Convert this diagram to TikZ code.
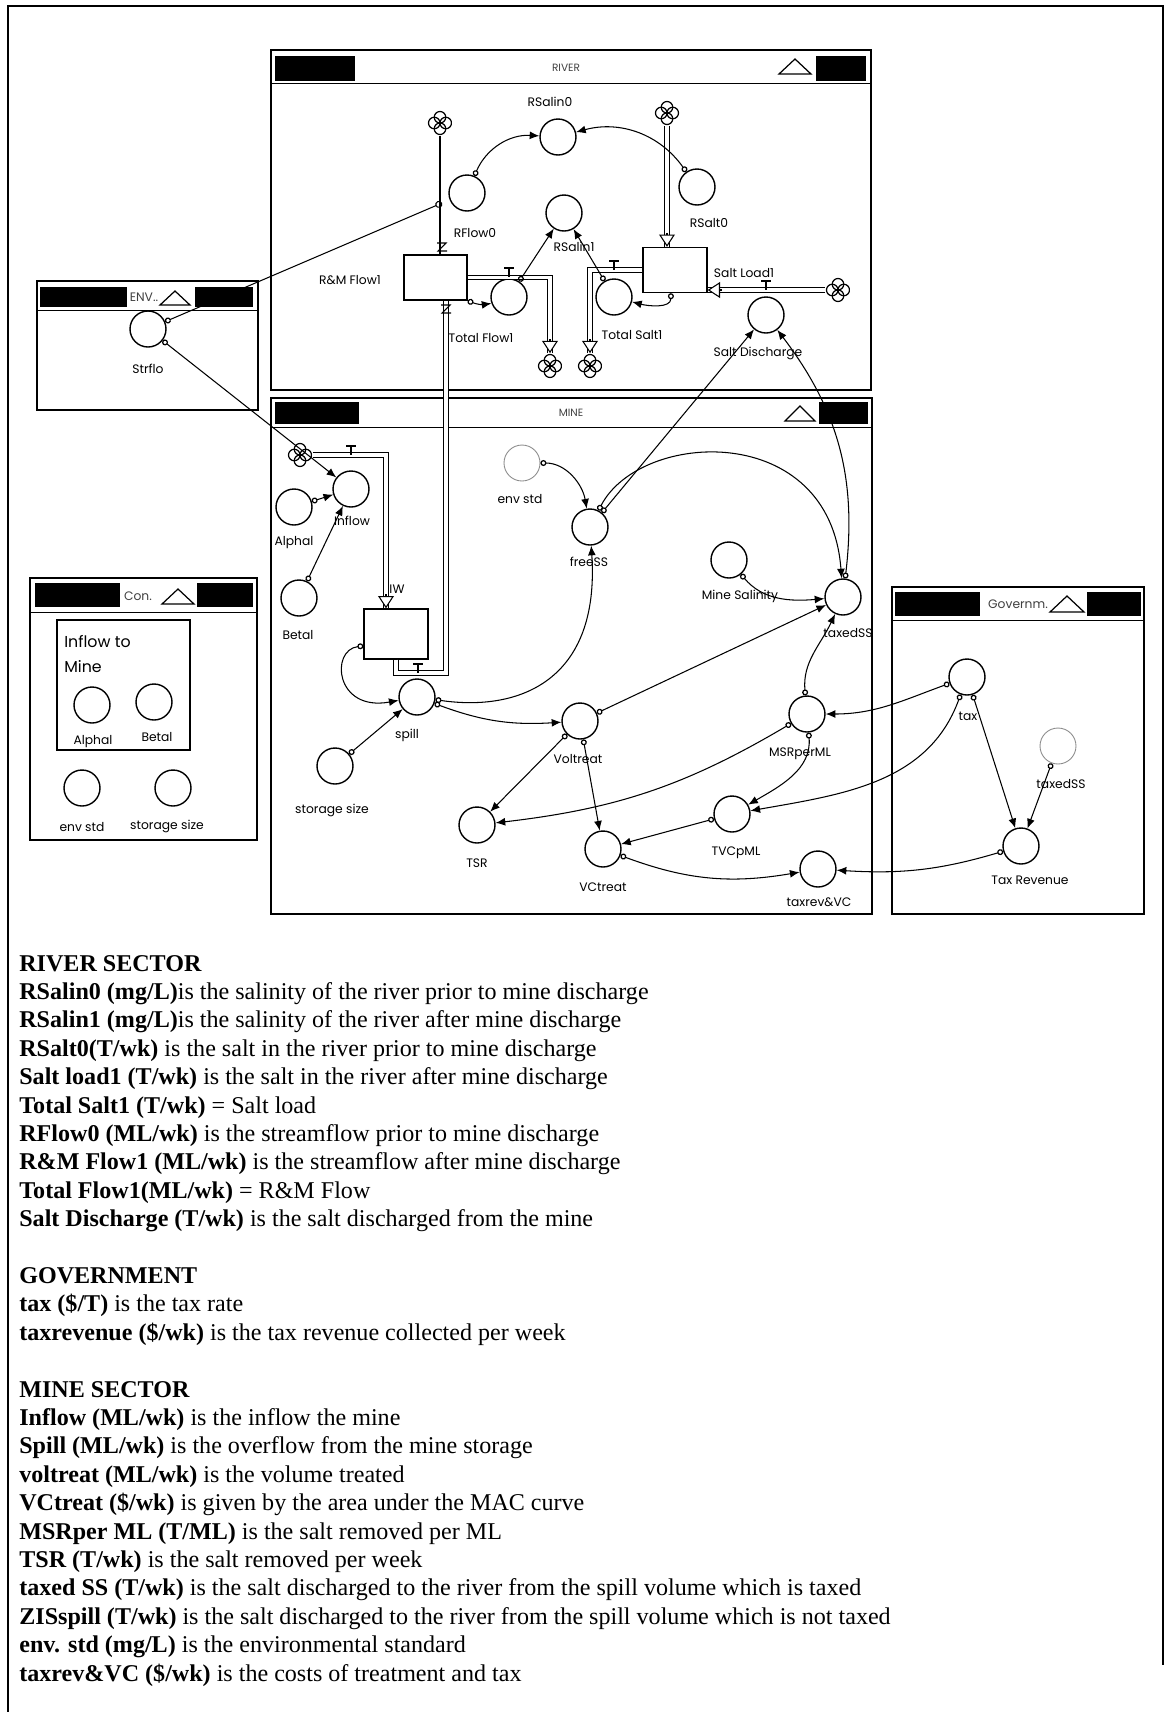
\documentclass[tikz,border=0pt]{standalone}
\usepackage{fontspec}
\setmainfont{Liberation Serif}
\newfontfamily\labelfont{Poppins}
\usetikzlibrary{arrows.meta}

\tikzset{
  aux/.style={circle, draw, line width=0.8pt, minimum size=0.72cm, inner sep=0pt},
  ghost/.style={aux, draw=black!45, line width=0.5pt},
  stock/.style={draw, line width=0.8pt, inner sep=0pt},
  cloudsym/.style={circle, minimum size=0.5cm, inner sep=0pt, fill=white,
    path picture={\foreach \a in {0,90,180,270}
      \draw[line width=0.7pt] ([shift={(\a:0.115cm)}]path picture bounding box.center) circle (0.115cm);}},
  lbl/.style={font=\labelfont\fontsize{7}{8}\selectfont, inner sep=0pt},
  wintitle/.style={font=\labelfont\fontsize{6}{7}\selectfont, text=black!75, inner sep=0pt},
  conn/.style={line width=0.6pt, {Circle[open,length=3.4pt,line width=0.7pt]}-{Latex[length=5.5pt,width=4.5pt]}},
  pipe/.style={line width=0.7pt, double=white, double distance=1.8pt},
  pipetip/.style={line width=0.6pt, -{Triangle[length=7pt,width=9pt,fill=white]}},
  winframe/.style={line width=1pt},
  txt/.style={font=\fontsize{13.7}{16}\selectfont, anchor=base west, inner sep=0pt}
}

\begin{document}
\begin{tikzpicture}[x=0.02cm,y=-0.02cm]
  \useasboundingbox (0,0) rectangle (1166,1712);
  % page frame
  \draw[line width=1.1pt] (8,1712) -- (8,6) -- (1163,6) -- (1163,1665);

  % RIVER window
  \draw[winframe] (271,50) rectangle (871,390);
  \draw (271,83) -- (871,83);
  \fill (275,56) rectangle (355,81);
  \fill (816,56) rectangle (866,81);
  \draw[line width=0.7pt] (779,74) -- (795,59) -- (811,74) -- cycle;
  \node[wintitle] (rivertitle) at (566,68) {RIVER};

  % MINE window
  \draw[winframe] (271,398) rectangle (872,914);
  \draw (271,427) -- (872,427);
  \fill (275,402) rectangle (359,424);
  \fill (819,402) rectangle (868,424);
  \draw[line width=0.7pt] (785,421) -- (800,406) -- (815,421) -- cycle;
  \node[wintitle] (minetitle) at (571,413) {MINE};

  % ENV window
  \draw[winframe] (37,281) rectangle (258,410);
  \draw (37,310) -- (258,310);
  \fill (40,287) rectangle (127,307);
  \fill (195,287) rectangle (253,307);
  \draw[line width=0.7pt] (160,305) -- (175,291) -- (190,305) -- cycle;
  \node[wintitle, font=\labelfont\fontsize{7}{8}\selectfont] (envtitle) at (144,297) {ENV..};

  % Con window
  \draw[winframe] (30,578) rectangle (257,840);
  \draw (30,612) -- (257,612);
  \fill (35,583) rectangle (120,607);
  \fill (197,583) rectangle (253,607);
  \draw[line width=0.7pt] (162,604) -- (178,589) -- (194,604) -- cycle;
  \node[wintitle, font=\labelfont\fontsize{7}{8}\selectfont] (contitle) at (138,596) {Con.};
  \draw[line width=0.8pt] (57,620) rectangle (190,750);

  % Government window
  \draw[winframe] (892,587) rectangle (1144,914);
  \draw (892,620) -- (1144,620);
  \fill (895,592) rectangle (980,616);
  \fill (1087,592) rectangle (1141,616);
  \draw[line width=0.7pt] (1050,612) -- (1067,596) -- (1084,612) -- cycle;
  \node[wintitle, font=\labelfont\fontsize{7}{8}\selectfont] (govtitle) at (1018,604) {Governm.};

  % river sector
  \node[cloudsym] (cloudRF) at (440,123) {};
  \node[cloudsym] (cloudRS) at (667,113) {};
  \node[cloudsym] (cloudSD) at (838,290) {};
  \node[cloudsym] (cloudOF) at (550,366) {};
  \node[cloudsym] (cloudOS) at (590,366) {};
  \node[aux] (RSalin0) at (558,137) {};
  \node[aux] (RFlow0) at (467,193) {};
  \node[aux] (RSalt0) at (697,187) {};
  \node[aux] (RSalin1) at (564,213) {};
  \node[stock, minimum width=1.26cm, minimum height=0.9cm] (RMFlow1) at (435.5,277.5) {};
  \node[aux] (TotalFlow1) at (509,297) {};
  \node[aux] (TotalSalt1) at (614,297) {};
  \node[stock, minimum width=1.28cm, minimum height=0.9cm] (SaltLoad1) at (675,270) {};
  \node[aux] (SaltDischarge) at (766,315) {};

  \node[lbl] (RSalin0-l) at (550,102) {RSalin0};
  \node[lbl] (RFlow0-l) at (475,233) {RFlow0};
  \node[lbl] (RSalt0-l) at (709,223) {RSalt0};
  \node[lbl] (RSalin1-l) at (574,247) {RSalin1};
  \node[lbl] (RMFlow1-l) at (350,280) {R\&M Flow1};
  \node[lbl] (TotalFlow1-l) at (481,338) {Total Flow1};
  \node[lbl] (TotalSalt1-l) at (632,335) {Total Salt1};
  \node[lbl] (SaltLoad1-l) at (744,273) {Salt Load1};
  \node[lbl] (SaltDischarge-l) at (758,353) {Salt Discharge};

  % ENV and Con sectors
  \node[aux] (Strflo) at (148,329) {};
  \node[lbl] (Strflo-l) at (148,369) {Strflo};
  \node[lbl, anchor=west, font=\labelfont\fontsize{9}{10}\selectfont] (inflowto) at (64,642) {Inflow to};
  \node[lbl, anchor=west, font=\labelfont\fontsize{9}{10}\selectfont] (inflowmine) at (64,667) {Mine};
  \node[aux] (ConAlphal) at (92,705) {};
  \node[aux] (ConBetal) at (154,702) {};
  \node[aux] (ConEnvStd) at (82,788) {};
  \node[aux] (ConStorage) at (173,788) {};
  \node[lbl] (ConAlphal-l) at (93,742) {Alphal};
  \node[lbl] (ConBetal-l) at (157,737) {Betal};
  \node[lbl] (ConEnvStd-l) at (82,827) {env std};
  \node[lbl] (ConStorage-l) at (167,826) {storage size};

  % mine sector
  \node[cloudsym] (cloudIn) at (300,455) {};
  \node[aux] (Inflow) at (351,489) {};
  \node[aux] (Alphal) at (294,507) {};
  \node[aux] (Betal) at (299,598) {};
  \node[stock, minimum width=1.28cm, minimum height=1.0cm] (MineStock) at (396,634) {};
  \node[aux] (spill) at (417,697) {};
  \node[aux] (StorageSize) at (335,766) {};
  \node[ghost] (EnvStd) at (522,463) {};
  \node[aux] (freeSS) at (590,527) {};
  \node[aux] (MineSal) at (729,560) {};
  \node[aux] (taxedSS) at (843,597) {};
  \node[aux] (Voltreat) at (580,721) {};
  \node[aux] (MSRperML) at (807,714) {};
  \node[aux] (TSR) at (477,825) {};
  \node[aux] (TVCpML) at (732,814) {};
  \node[aux] (VCtreat) at (603,849) {};
  \node[aux] (taxrevVC) at (818,869) {};

  \node[lbl] (Inflow-l) at (352,521) {Inflow};
  \node[lbl] (Alphal-l) at (294,543) {Alphal};
  \node[lbl] (Betal-l) at (298,635) {Betal};
  \node[lbl] (MineStock-l) at (397,589) {IW};
  \node[lbl] (spill-l) at (407,735) {spill};
  \node[lbl] (StorageSize-l) at (332,810) {storage size};
  \node[lbl] (EnvStd-l) at (520,499) {env std};
  \node[lbl] (freeSS-l) at (589,562) {freeSS};
  \node[lbl] (MineSal-l) at (740,596) {Mine Salinity};
  \node[lbl] (taxedSS-l) at (848,633) {taxedSS};
  \node[lbl] (Voltreat-l) at (578,759) {Voltreat};
  \node[lbl] (MSRperML-l) at (800,754) {MSRperML};
  \node[lbl] (TSR-l) at (477,863) {TSR};
  \node[lbl] (TVCpML-l) at (736,853) {TVCpML};
  \node[lbl] (VCtreat-l) at (603,887) {VCtreat};
  \node[lbl] (taxrevVC-l) at (819,902) {taxrev\&VC};

  % government sector
  \node[aux] (tax) at (967,677) {};
  \node[ghost] (GovTaxedSS) at (1058,746) {};
  \node[aux] (TaxRevenue) at (1021,846) {};
  \node[lbl] (tax-l) at (968,716) {tax};
  \node[lbl] (GovTaxedSS-l) at (1061,784) {taxedSS};
  \node[lbl] (TaxRevenue-l) at (1030,880) {Tax Revenue};

  % flows (pipes)
  \draw[line width=0.6pt] (cloudRF.south) -- (cloudRF.south |- RMFlow1.north);
  \draw[pipe] (RMFlow1.east) -- (cloudOF.north |- RMFlow1.east) -- (cloudOF.north);
  \draw[pipetip] ([yshift=8pt]cloudOF.north) -- (cloudOF.north);
  \draw[pipe] (SaltLoad1.west) -- (cloudOS.north |- SaltLoad1.west) -- (cloudOS.north);
  \draw[pipetip] ([yshift=8pt]cloudOS.north) -- (cloudOS.north);
  \coordinate (saltin) at (cloudRS.south |- SaltLoad1.north);
  \draw[pipe] (cloudRS.south) -- (saltin);
  \draw[pipetip] ([yshift=8pt]saltin) -- (saltin);
  \coordinate (sdin) at (SaltLoad1.east |- cloudSD.west);
  \draw[pipe] (cloudSD.west) -- (sdin);
  \draw[pipetip] ([xshift=8pt]sdin) -- (sdin);
  \coordinate (inbend) at (386,455);
  \coordinate (inend) at (inbend |- MineStock.north);
  \draw[pipe] (cloudIn.east) -- (inbend) -- (inend);
  \draw[pipetip] ([yshift=8pt]inend) -- (inend);
  \coordinate (riserfoot) at (446,673);
  \coordinate (risertop) at (riserfoot |- RMFlow1.south);
  \draw[pipe] (MineStock.south) |- (riserfoot) -- (risertop);
  % flow marks on R&M Flow1
  \foreach \zx/\zy in {442/247, 446/309}
    \draw[line width=0.6pt] (\zx-5,\zy-4) -- (\zx+4,\zy-4) -- (\zx-4,\zy+4) -- (\zx+5,\zy+4);
  % valves
  \foreach \vx/\vy in {509/277, 614/270, 766/290, 351/455, 418/673}
    \draw[line width=0.7pt] (\vx-5,\vy-9) -- (\vx+5,\vy-9) (\vx,\vy-9) -- (\vx,\vy);

  % connectors: river
  \draw[conn] (RFlow0) to[bend left=35] (RSalin0);
  \draw[conn] (RSalt0) to[bend right=35] (RSalin0);
  \draw[conn] (TotalFlow1) -- (RSalin1);
  \draw[conn] (TotalSalt1) -- (RSalin1);
  \draw[conn] (RMFlow1.south east) to[bend right=15] (TotalFlow1);
  \draw[conn] (SaltLoad1.-100) to[out=-90,in=-15] (TotalSalt1);
  \coordinate (RFlowValve) at (442,203);
  \draw[line width=0.6pt, {Circle[open,length=3.4pt,line width=0.7pt]}-{Circle[open,length=4pt,line width=0.6pt]}] (Strflo) -- (RFlowValve);
  \draw[conn] (Strflo) -- (Inflow);

  % connectors: mine
  \draw[conn] (Alphal) -- (Inflow);
  \draw[conn] (Betal) -- (Inflow);
  \draw[conn] (MineStock.200) .. controls (330,650) and (335,712) .. (spill);
  \draw[conn] (StorageSize) -- (spill);
  \draw[conn] (spill) .. controls (520,712) and (600,680) .. (freeSS);
  \draw[conn] (spill) to[bend right=12] (Voltreat);
  \draw[conn] (EnvStd) to[out=0,in=100] (freeSS);
  \draw[conn] (freeSS) .. controls (640,430) and (830,420) .. (taxedSS);
  \draw[conn] (freeSS) -- (SaltDischarge);
  \draw[conn] (taxedSS) to[bend right=22] (SaltDischarge);
  \draw[conn] (MineSal) to[out=-50,in=185] (taxedSS);
  \draw[conn] (Voltreat) -- (taxedSS);
  \draw[conn] (MSRperML) to[out=95,in=245] (taxedSS);
  \draw[conn] (Voltreat) -- (TSR);
  \draw[conn] (Voltreat) -- (VCtreat);
  \draw[conn] (MSRperML) to[bend left=12] (TSR);
  \draw[conn] (MSRperML) to[out=-85,in=30] (TVCpML);
  \draw[conn] (TVCpML) -- (VCtreat);
  \draw[conn] (VCtreat) to[bend right=15] (taxrevVC);

  % connectors: government
  \draw[conn] (tax) to[out=200,in=0] (MSRperML);
  \draw[conn] (tax) to[out=-110,in=10] (TVCpML);
  \draw[conn] (TaxRevenue) to[bend left=10] (taxrevVC);
  \draw[conn] (tax) -- (TaxRevenue);
  \draw[conn] (GovTaxedSS) -- (TaxRevenue);

  % glossary
  \foreach \k/\t in {
    0/{\textbf{RIVER SECTOR}},
    1/{\textbf{RSalin0 (mg/L)}is the salinity of the river prior to mine discharge},
    2/{\textbf{RSalin1 (mg/L)}is the salinity of the river after  mine discharge},
    3/{\textbf{RSalt0(T/wk)} is the salt in the river prior to mine discharge},
    4/{\textbf{Salt load1 (T/wk)} is the salt in the river after mine discharge},
    5/{\textbf{Total Salt1 (T/wk)} = Salt load},
    6/{\textbf{RFlow0 (ML/wk)} is the streamflow prior to mine discharge},
    7/{\textbf{R\&M Flow1 (ML/wk)} is the streamflow after mine discharge},
    8/{\textbf{Total Flow1(ML/wk)} = R\&M Flow},
    9/{\textbf{Salt Discharge (T/wk)} is the salt discharged from the mine},
    11/{\textbf{GOVERNMENT}},
    12/{\textbf{tax (\$/T)} is the tax rate},
    13/{\textbf{taxrevenue (\$/wk)} is the tax revenue collected per week},
    15/{\textbf{MINE SECTOR}},
    16/{\textbf{Inflow (ML/wk)} is the inflow the mine},
    17/{\textbf{Spill (ML/wk)} is the overflow from the mine storage},
    18/{\textbf{voltreat (ML/wk)} is the volume treated},
    19/{\textbf{VCtreat (\$/wk)} is given by the area under the MAC curve},
    20/{\textbf{MSRper ML (T/ML)} is the salt removed per ML},
    21/{\textbf{TSR (T/wk)} is the salt removed per week},
    22/{\textbf{taxed SS (T/wk)} is the salt discharged to the river from the spill volume which is taxed},
    23/{\textbf{ZISspill (T/wk)} is the salt discharged to the river from the spill volume which is not taxed},
    24/{\textbf{env. std (mg/L)} is the environmental standard},
    25/{\textbf{taxrev\&VC (\$/wk)} is the costs of treatment and tax}}
    \node[txt] (line\k) at (19,{971+28.4*\k}) {\t};
\end{tikzpicture}
\end{document}
